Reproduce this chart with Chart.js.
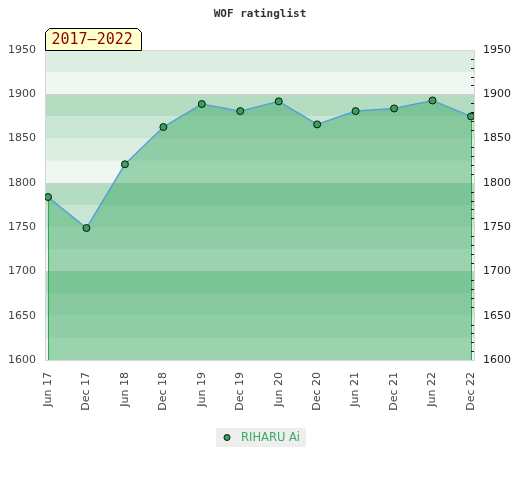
<!DOCTYPE html>
<html><head><meta charset="utf-8">
<script src="https://cdn.jsdelivr.net/npm/chart.js@4"></script>
<style>html,body{margin:0;padding:0;background:#fff;}canvas{display:block}</style>
</head><body>
<canvas id="c" width="520" height="480"></canvas>
<script>
const periods = ['Jun 17','Dec 17','Jun 18','Dec 18','Jun 19','Dec 19','Jun 20','Dec 20','Jun 21','Dec 21','Jun 22','Dec 22'];
const ratings = [1784,1749,1821,1863,1889,1881,1892,1866,1881,1884,1893,1875];
const yMin = 1600, yMax = 1950;
const yTickStep = 50, yMinorStep = 10, bandStep = 25, gridStep = 100;
const seriesName = 'RIHARU Ai';
const chartTitle = 'WOF ratinglist';
const rangeLabel = '2017–2022';
const bandColors = ['#eef7f1','#dcede2','#c8e6d3','#b3dcc1'];

Chart.defaults.font.family = '"DejaVu Sans", sans-serif';
Chart.defaults.font.size = 11;

const decor = {
  id: 'decor',
  beforeDraw(chart) {
    const {ctx, chartArea: a, scales: {y}} = chart;
    ctx.save();
    for (let v = yMin; v < yMax; v += bandStep) {
      const i = Math.round((v - yMin) / bandStep) % 4;
      const top = y.getPixelForValue(v + bandStep), bot = y.getPixelForValue(v);
      ctx.fillStyle = bandColors[i];
      ctx.fillRect(a.left, top, a.right - a.left, bot - top);
    }
    ctx.strokeStyle = '#d0d0d0';
    ctx.lineWidth = 1;
    for (let v = yMin; v <= yMax; v += gridStep) {
      const p = Math.round(y.getPixelForValue(v)) + 0.5;
      ctx.beginPath(); ctx.moveTo(a.left, p); ctx.lineTo(a.right, p); ctx.stroke();
    }
    ctx.strokeStyle = '#d6d6d6';
    ctx.strokeRect(Math.round(a.left) + 0.5, Math.round(a.top) + 0.5, Math.round(a.right - a.left), Math.round(a.bottom - a.top));
    ctx.restore();
  },
  afterDatasetsDraw(chart) {
    const {ctx, chartArea: a, scales: {y2}} = chart;
    const pts = chart.getDatasetMeta(0).data;
    ctx.save();
    ctx.strokeStyle = '#2ea84f';
    ctx.lineWidth = 1;
    [pts[0], pts[pts.length - 1]].forEach(p => {
      const x = Math.round(p.x) + 0.5;
      ctx.beginPath(); ctx.moveTo(x, p.y + 4); ctx.lineTo(x, a.bottom); ctx.stroke();
    });
    ctx.strokeStyle = '#111';
    for (let v = yMin + yMinorStep; v < yMax; v += yMinorStep) {
      if (v % yTickStep === 0) continue;
      const p = Math.round(y2.getPixelForValue(v)) + 0.5;
      ctx.beginPath(); ctx.moveTo(a.right - 3, p); ctx.lineTo(a.right, p); ctx.stroke();
    }
    ctx.restore();
  },
  afterDraw(chart) {
    const {ctx, chartArea: a} = chart;
    ctx.save();
    ctx.font = 'bold 11px "DejaVu Sans Mono", monospace';
    ctx.fillStyle = '#333';
    ctx.textAlign = 'center';
    ctx.textBaseline = 'middle';
    ctx.fillText(chartTitle, chart.width / 2, 14.5);
    const l = Math.round(a.left) + 0.5, t = 28.5, r = l + 96, b = Math.round(a.top) + 0.5, c = 4;
    ctx.beginPath();
    ctx.moveTo(l, b); ctx.lineTo(l, t + c); ctx.lineTo(l + c, t); ctx.lineTo(r - c, t); ctx.lineTo(r, t + c); ctx.lineTo(r, b); ctx.closePath();
    ctx.fillStyle = '#ffffcc'; ctx.fill();
    ctx.strokeStyle = '#000'; ctx.lineWidth = 1; ctx.stroke();
    ctx.font = '15px "DejaVu Sans Mono", monospace';
    ctx.fillStyle = '#8b0000';
    ctx.textAlign = 'left';
    ctx.fillText(rangeLabel, l + 6, (t + b) / 2 + 1);
    ctx.fillStyle = '#eeeeee';
    ctx.fillRect(216, 428, 90, 19);
    ctx.beginPath(); ctx.arc(227, 437.5, 3, 0, Math.PI * 2);
    ctx.fillStyle = '#35a35c'; ctx.fill();
    ctx.strokeStyle = '#111'; ctx.stroke();
    ctx.font = '11.5px "DejaVu Sans", sans-serif';
    ctx.fillStyle = '#3aaa5e';
    ctx.fillText(seriesName, 241, 438);
    ctx.restore();
  }
};

new Chart(document.getElementById('c'), {
  type: 'line',
  data: {
    datasets: [{
      label: seriesName,
      data: ratings.map((v, i) => ({x: i, y: v})),
      yAxisID: 'y',
      fill: 'start',
      backgroundColor: 'rgba(53,167,96,0.45)',
      borderColor: '#5aa0d8',
      borderWidth: 1.5,
      pointRadius: 3.5,
      pointBackgroundColor: '#35a35c',
      pointBorderColor: '#111',
      pointBorderWidth: 1,
      tension: 0
    }]
  },
  options: {
    responsive: false,
    animation: false,
    devicePixelRatio: 1,
    layout: {padding: {top: 50, left: 0, right: 0, bottom: 0}},
    plugins: {legend: {display: false}, title: {display: false}, tooltip: {enabled: false}},
    scales: {
      x: {
        type: 'linear',
        min: -0.078, max: periods.length - 1 + 0.078,
        afterBuildTicks: s => { s.ticks = periods.map((_, i) => ({value: i})); },
        afterFit: s => { s.height = 120; },
        grid: {display: false, drawTicks: false},
        border: {display: false},
        ticks: {
          autoSkip: false, minRotation: 90, maxRotation: 90, padding: 12,
          color: '#444', font: {size: 11},
          callback: v => periods[v]
        }
      },
      y: {
        position: 'left',
        min: yMin, max: yMax,
        afterFit: s => { s.width = 45; },
        grid: {display: false, drawTicks: false},
        border: {display: false},
        ticks: {stepSize: yTickStep, padding: 9, color: '#444', font: {size: 11}, callback: v => String(v)}
      },
      y2: {
        position: 'right',
        min: yMin, max: yMax,
        afterFit: s => { s.width = 46; },
        grid: {display: false, drawTicks: false},
        border: {display: false},
        ticks: {stepSize: yTickStep, padding: 9, color: '#222', font: {size: 11}, callback: v => String(v)}
      }
    }
  },
  plugins: [decor]
});
</script>
</body></html>
